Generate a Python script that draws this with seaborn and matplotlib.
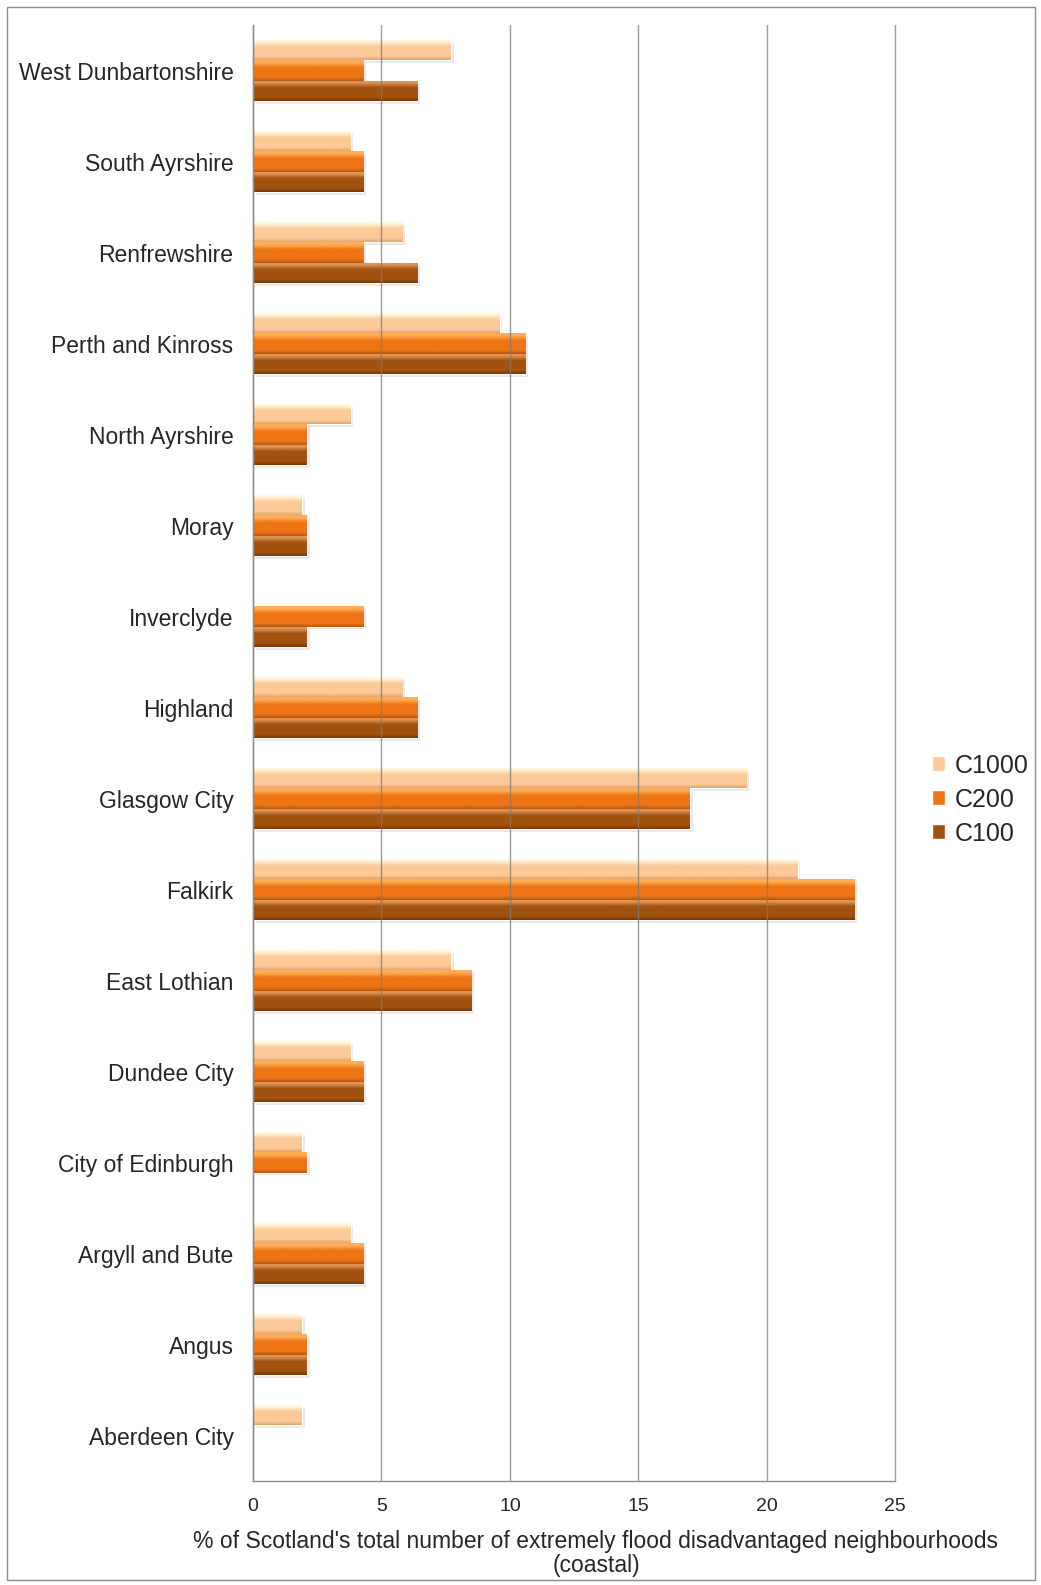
import numpy as np
import pandas as pd
import matplotlib
matplotlib.use('Agg')
import matplotlib.pyplot as plt
import matplotlib.colors as mcolors
import matplotlib.patheffects as pe
from matplotlib.patches import Rectangle
import seaborn as sns

#------------------------------------------------------------------------------
# DATA
#------------------------------------------------------------------------------

areas = ['West Dunbartonshire', 'South Ayrshire', 'Renfrewshire', 'Perth and Kinross',
         'North Ayrshire', 'Moray', 'Inverclyde', 'Highland', 'Glasgow City', 'Falkirk',
         'East Lothian', 'Dundee City', 'City of Edinburgh', 'Argyll and Bute', 'Angus',
         'Aberdeen City']
series = ['C1000', 'C200', 'C100']

c1000 = [7.7, 3.8, 5.8, 9.6, 3.8, 1.9, 0.0, 5.8, 19.2, 21.2, 7.7, 3.8, 1.9, 3.8, 1.9, 1.9]
c200 = [4.3, 4.3, 4.3, 10.6, 2.1, 2.1, 4.3, 6.4, 17.0, 23.4, 8.5, 4.3, 2.1, 4.3, 2.1, 0.0]
c100 = [6.4, 4.3, 6.4, 10.6, 2.1, 2.1, 2.1, 6.4, 17.0, 23.4, 8.5, 4.3, 0.0, 4.3, 2.1, 0.0]

xticks = [0, 5, 10, 15, 20, 25]
xlabel = "% of Scotland's total number of extremely flood disadvantaged neighbourhoods\n(coastal)"

# base / top highlight / bottom shade for the bevelled excel look
colours = {'C1000': ('#FCCA98', '#FFF6DC', '#E2A574'),
           'C200': ('#EE7515', '#FFAE55', '#B95510'),
           'C100': ('#A2520F', '#DE9555', '#76390A')}

df = pd.DataFrame({'area': np.repeat(areas, 3),
                   'series': series * len(areas),
                   'value': np.ravel(np.column_stack([c1000, c200, c100]))})

#------------------------------------------------------------------------------
# PLOTTING
#------------------------------------------------------------------------------

sns.set_style('white')
plt.rcParams['font.family'] = ['Liberation Sans', 'DejaVu Sans']

fig = plt.figure(figsize=(10.41, 15.85), dpi=100)
ax = fig.add_axes([0.243, 0.0656, 0.617, 0.9186])

pal = {s: colours[s][0] for s in series}
sns.barplot(data=df, x='value', y='area', hue='series', order=areas, hue_order=series,
            palette=pal, orient='h', width=0.667, saturation=1, ax=ax, legend=True)

# bevel gradient + soft shadow on each bar
ngrad = 60
t = np.linspace(0, 1, ngrad)
for patch in list(ax.patches):
    w = patch.get_width()
    if w <= 0:
        continue
    fc = mcolors.to_hex(patch.get_facecolor(), keep_alpha=False).upper()
    key = [s for s in series if colours[s][0].upper() == fc]
    if not key:
        continue
    base, top, bot = [np.array(mcolors.to_rgb(c)) for c in colours[key[0]]]
    grad = np.zeros((ngrad, 1, 3))
    for i, v in enumerate(t):
        if v < 0.12:
            grad[i, 0] = top
        elif v < 0.35:
            f = (v - 0.12) / 0.23
            grad[i, 0] = top * (1 - f) + base * f
        elif v < 0.82:
            grad[i, 0] = base
        else:
            f = (v - 0.82) / 0.18
            grad[i, 0] = base * (1 - f) + bot * f
    patch.set_path_effects([pe.SimplePatchShadow(offset=(2, -2), shadow_rgbFace='#909090', alpha=0.2),
                            pe.Normal()])
    x0 = patch.get_x()
    y0 = patch.get_y()
    h = patch.get_height()
    im = ax.imshow(grad, extent=(x0, x0 + w, y0 + h, y0), aspect='auto',
                   interpolation='bilinear', zorder=patch.get_zorder() + 0.1)
    im.set_clip_path(patch)

ax.set_xlim(0, 25)
ax.set_ylim(len(areas) - 0.5, -0.5)
ax.set_xticks(xticks)
ax.set_xticklabels([str(x) for x in xticks], fontsize=14)
ax.tick_params(axis='y', labelsize=16.5, length=0, pad=14)
ax.tick_params(axis='x', length=4, width=1, color='#8C8C8C', direction='out', pad=8)
ax.set_ylabel('')
ax.set_xlabel(xlabel, fontsize=16.5, labelpad=10, linespacing=1.05)
ax.xaxis.set_label_coords(0.534, -0.0335)
ax.xaxis.label.set_verticalalignment('top')

ax.xaxis.grid(True, color='#7A7A7A', linewidth=1, alpha=0.75, zorder=5)
ax.yaxis.grid(False)
ax.set_axisbelow(False)
for gl in ax.get_xgridlines():
    gl.set_clip_on(False)
    gl.set_zorder(5)
for side in ['top', 'right']:
    ax.spines[side].set_visible(False)
for side in ['left', 'bottom']:
    ax.spines[side].set_color('#8C8C8C')
    ax.spines[side].set_linewidth(1)
    ax.spines[side].set_zorder(6)

leg = ax.legend(loc='center left', bbox_to_anchor=(1.022, 0.468), frameon=False,
                fontsize=18, handlelength=0.52, handleheight=0.52, handletextpad=0.4,
                labelspacing=0.4, title=None)

# outer frame
fig.patches.append(Rectangle((7 / 1041, 5 / 1585), 1 - 13 / 1041, 1 - 12 / 1585,
                             transform=fig.transFigure, fill=False,
                             edgecolor='#8C8C8C', linewidth=1))

fig.savefig('out.png', dpi=100)
plt.close(fig)
